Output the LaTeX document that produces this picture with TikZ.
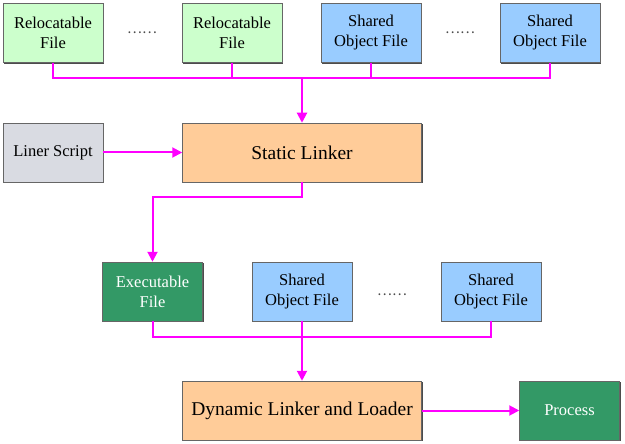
\documentclass[tikz,border=0pt]{standalone}
\usepackage{fontspec}
\setmainfont{LiberationSerif}[Extension=.ttf, UprightFont=*-Regular, BoldFont=*-Bold]
\newfontfamily\cjk{Noto Sans CJK SC}
\usetikzlibrary{arrows.meta,shadows}
\definecolor{relgreen}{HTML}{CCFFCC}
\definecolor{soblue}{HTML}{99CCFF}
\definecolor{linkorange}{HTML}{FFCC99}
\definecolor{darkgreen}{HTML}{339966}
\definecolor{scriptgray}{HTML}{D9DBE2}
\definecolor{wire}{HTML}{FF00FF}
\tikzset{
  filebox/.style={draw=black!60, line width=0.5pt, inner sep=0pt, align=center,
    minimum width=#1, minimum height=59pt, font=\fontsize{16.5}{20}\selectfont,
    drop shadow={shadow xshift=1.2pt, shadow yshift=-1.2pt, opacity=1, fill=black!70}},
  filebox/.default=100pt,
  bigbox/.style={filebox=239pt, font=\fontsize{19.5}{23}\selectfont},
  wireline/.style={draw=wire, line width=2pt},
  wirearrow/.style={wireline, -{Triangle[length=10pt,width=10pt]}},
  dotsym/.style={font=\cjk\fontsize{14}{14}\selectfont, text=black!70}
}
\begin{document}
\begin{tikzpicture}[x=1pt,y=-1pt]
\useasboundingbox (0,0) rectangle (625,444);
% top row
\node[filebox, fill=relgreen] (r1) at (53,33) {Relocatable\\File};
\node[dotsym] (d1) at (142,33) {……};
\node[filebox, fill=relgreen] (r2) at (232,33) {Relocatable\\File};
\node[filebox, fill=soblue] (s1) at (371,33) {Shared\\Object File};
\node[dotsym] (d2) at (460,33) {……};
\node[filebox, fill=soblue] (s2) at (550,33) {Shared\\Object File};
% middle row
\node[filebox, fill=scriptgray] (ls) at (53,152.5) {Liner Script};
\node[bigbox, fill=linkorange] (sl) at (302,152.5) {Static Linker};
% third row
\node[filebox, fill=darkgreen, text=white] (ex) at (152.5,291.5) {Executable\\File};
\node[filebox, fill=soblue] (s3) at (302,291.5) {Shared\\Object File};
\node[dotsym] (d3) at (392,295) {……};
\node[filebox, fill=soblue] (s4) at (491,291.5) {Shared\\Object File};
% bottom row
\node[bigbox, fill=linkorange] (dl) at (302,410.5) {Dynamic Linker and Loader};
\node[filebox, fill=darkgreen, text=white] (pr) at (569.5,410.5) {Process};
% connectors
\coordinate (bus1) at (302,78);
\coordinate (bus2) at (302,336.5);
\draw[wireline] (r1.south) |- (s2.south |- bus1) -- (s2.south);
\draw[wireline] (r2.south) -- (r2.south |- bus1);
\draw[wireline] (s1.south) -- (s1.south |- bus1);
\draw[wirearrow] (bus1) -- (sl.north);
\draw[wirearrow] (ls.east) -- (sl.west);
\draw[wirearrow] (sl.south) -- ++(0,15) -| (ex.north);
\draw[wireline] (ex.south) |- (s4.south |- bus2) -- (s4.south);
\draw[wireline] (s3.south) -- (bus2);
\draw[wirearrow] (bus2) -- (dl.north);
\draw[wirearrow] (dl.east) -- (pr.west);
\end{tikzpicture}
\end{document}
